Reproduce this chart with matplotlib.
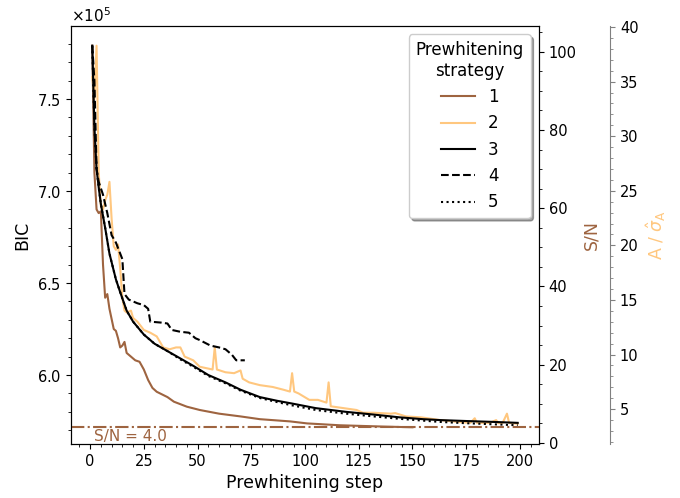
import numpy as np
import matplotlib
matplotlib.use("Agg")
import matplotlib.pyplot as plt
from matplotlib.ticker import MultipleLocator, AutoMinorLocator

# BIC values in units of 1e5, per prewhitening step
steps1 = [1, 2, 3, 4, 5, 6, 7, 8, 9, 11, 12, 13, 14, 15, 16, 17, 19, 21, 23, 25, 27, 29, 31, 36, 39, 45, 51, 60, 70, 79, 93, 101, 116, 136, 150]
bic1 = [7.79, 7.10, 6.90, 6.88, 6.89, 6.60, 6.42, 6.44, 6.36, 6.25, 6.24, 6.20, 6.15, 6.16, 6.18, 6.12, 6.10, 6.08, 6.072, 6.03, 5.973, 5.93, 5.909, 5.88, 5.855, 5.828, 5.81, 5.79, 5.775, 5.76, 5.748, 5.737, 5.727, 5.72, 5.716]

steps2 = [1, 2, 3, 4, 5, 6, 7, 8, 9, 10, 11, 12, 13, 14, 15, 16, 17, 19, 20, 22, 25, 28, 31, 34, 37, 40, 42, 44, 48, 51, 55, 57, 58, 59, 63, 67, 70, 71, 74, 79, 85, 90, 93, 94, 95, 97, 102, 106, 110, 111, 112, 118, 124, 127, 132, 140, 142, 147, 154, 163, 171, 177, 179, 180, 186, 189, 190, 192, 194, 195, 199]
bic2 = [7.62, 7.50, 7.79, 7.10, 6.92, 6.90, 6.95, 6.98, 7.05, 6.85, 6.70, 6.68, 6.71, 6.58, 6.42, 6.35, 6.34, 6.35, 6.31, 6.29, 6.245, 6.23, 6.21, 6.15, 6.14, 6.15, 6.15, 6.10, 6.08, 6.045, 6.035, 6.03, 6.15, 6.03, 6.015, 6.01, 6.025, 5.98, 5.96, 5.945, 5.935, 5.92, 5.91, 6.01, 5.91, 5.90, 5.865, 5.865, 5.85, 5.96, 5.83, 5.82, 5.81, 5.795, 5.795, 5.79, 5.793, 5.775, 5.77, 5.755, 5.745, 5.74, 5.765, 5.74, 5.74, 5.755, 5.738, 5.74, 5.79, 5.74, 5.735]

steps3 = [1, 2, 3, 4, 5, 7, 9, 12, 14, 17, 20, 25, 30, 36, 42, 48, 55, 63, 70, 79, 87, 94, 105, 119, 132, 144, 155, 163, 175, 188, 199]
bic3 = [7.79, 7.35, 7.12, 7.02, 6.93, 6.80, 6.66, 6.52, 6.45, 6.35, 6.29, 6.22, 6.17, 6.13, 6.09, 6.05, 6.00, 5.96, 5.92, 5.88, 5.86, 5.845, 5.82, 5.80, 5.785, 5.77, 5.76, 5.755, 5.75, 5.745, 5.74]

steps4 = [1, 2, 3, 4, 6, 8, 10, 12, 14, 15, 16, 18, 22, 25, 27, 28, 33, 36, 38, 42, 46, 49, 51, 56, 60, 63, 66, 68, 72]
bic4 = [7.79, 7.60, 7.12, 7.05, 6.98, 6.88, 6.76, 6.72, 6.66, 6.63, 6.44, 6.41, 6.39, 6.38, 6.36, 6.29, 6.285, 6.28, 6.245, 6.235, 6.23, 6.20, 6.19, 6.16, 6.15, 6.14, 6.11, 6.08, 6.08]

steps5 = steps3
bic5 = [7.79, 7.35, 7.12, 7.02, 6.93, 6.80, 6.66, 6.52, 6.45, 6.35, 6.29, 6.22, 6.17, 6.13, 6.085, 6.045, 5.995, 5.955, 5.915, 5.875, 5.853, 5.835, 5.81, 5.79, 5.775, 5.762, 5.752, 5.745, 5.738, 5.732, 5.727]

strategies = ["1", "2", "3", "4", "5"]
sn_threshold = 4.0

cmap = plt.get_cmap("copper")
c_brown = cmap(0.5)
c_orange = cmap(1.0)

fig = plt.figure(figsize=(6.8, 4.98), dpi=100)
ax = fig.add_subplot(111)
fig.subplots_adjust(left=0.1044, right=0.7926, bottom=0.1084, top=0.9478)

ax.plot(steps1, np.array(bic1) * 1e5, color=c_brown, lw=1.5, label=strategies[0])
ax.plot(steps2, np.array(bic2) * 1e5, color=c_orange, lw=1.5, label=strategies[1])
ax.plot(steps3, np.array(bic3) * 1e5, color="black", lw=1.5, label=strategies[2])
ax.plot(steps4, np.array(bic4) * 1e5, color="black", lw=1.5, ls="--", label=strategies[3])
ax.plot(steps5, np.array(bic5) * 1e5, color="black", lw=1.5, ls=":", label=strategies[4])

ax.set_xlim(-8.9, 208.9)
ax.set_ylim(5.625e5, 7.897e5)
ax.xaxis.set_major_locator(MultipleLocator(25))
ax.xaxis.set_minor_locator(AutoMinorLocator())
ax.yaxis.set_major_locator(MultipleLocator(0.5e5))
ax.yaxis.set_minor_locator(AutoMinorLocator())
ax.ticklabel_format(axis="y", style="sci", scilimits=(0, 0), useMathText=True)
ax.yaxis.get_offset_text().set_fontsize(11)
ax.tick_params(labelsize=10.5)
ax.set_xlabel("Prewhitening step", fontsize=12.5)
ax.set_ylabel("BIC", fontsize=12.5)

# S/N axis
ax2 = ax.twinx()
ax2.set_ylim(-0.3, 106.6)
ax2.yaxis.set_major_locator(MultipleLocator(20))
ax2.yaxis.set_minor_locator(AutoMinorLocator())
ax2.tick_params(labelsize=10.5)
ax2.set_ylabel("S/N", color=c_brown, fontsize=12.5)
ax2.axhline(sn_threshold, color=c_brown, lw=1.5, ls="-.")
ax2.text(2, sn_threshold - 0.4, f"S/N = {sn_threshold:.1f}", color=c_brown,
         fontsize=11, va="top", ha="left")

# amplitude over its uncertainty axis
ax3 = ax.twinx()
ax3.spines["right"].set_position(("axes", 1.152))
for side in ("top", "left", "bottom"):
    ax3.spines[side].set_visible(False)
ax3.spines["right"].set_color("grey")
ax3.set_ylim(1.8, 40.1)
ax3.yaxis.set_major_locator(MultipleLocator(5))
ax3.yaxis.set_minor_locator(AutoMinorLocator())
ax3.tick_params(axis="y", which="both", colors="grey", labelcolor="black", labelsize=10.5)
ax3.set_ylabel(r"A / $\hat{\sigma}_{\rm A}$", color=c_orange, fontsize=12.5)

leg = ax.legend(title="Prewhitening\nstrategy", loc="upper right", fontsize=12,
                title_fontsize=12, shadow=True)
leg.get_title().set_multialignment("center")

fig.savefig("out.png", dpi=100)
